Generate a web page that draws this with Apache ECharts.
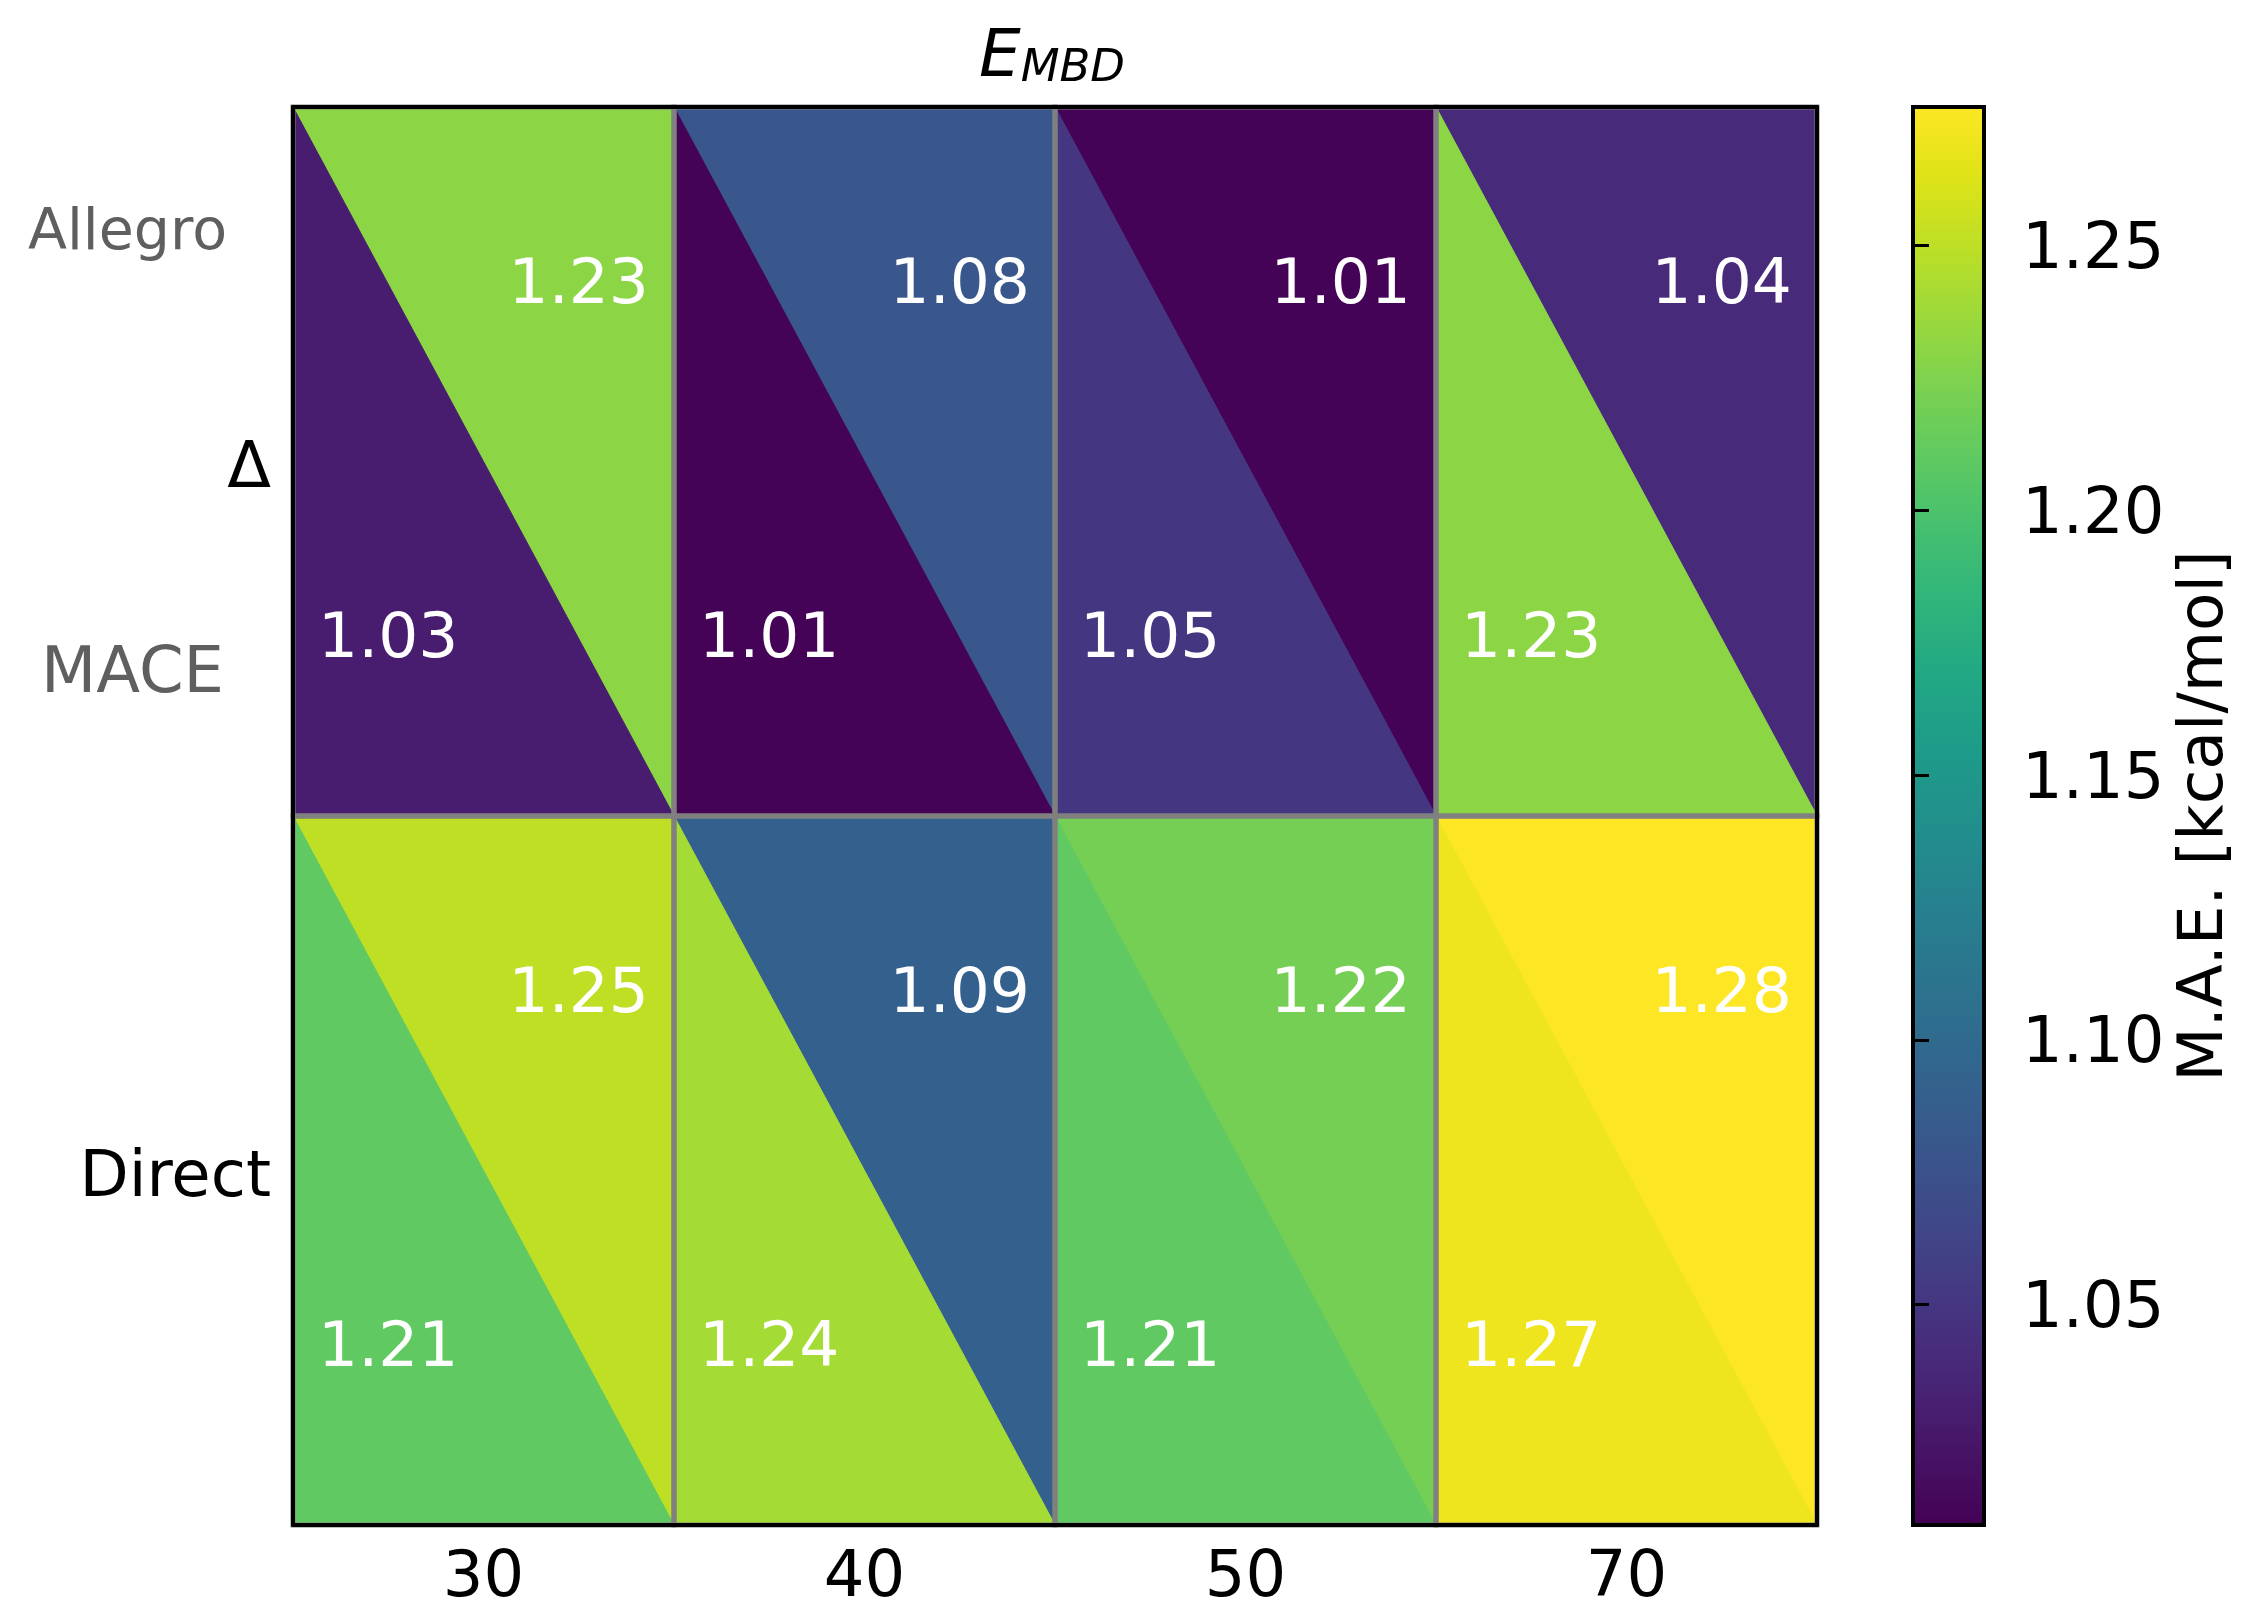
<!DOCTYPE html>
<html>
<head>
<meta charset="utf-8">
<script src="https://cdn.jsdelivr.net/npm/echarts@6/dist/echarts.min.js"></script>
<style>
  html, body { margin: 0; padding: 0; background: #ffffff; }
  #chart { width: 2249px; height: 1599px; }
</style>
</head>
<body>
<div id="chart"></div>
<script>
// MBD cutoff settings (columns) and training approaches (rows, bottom to top)
const cutoffs = ['30', '40', '50', '70'];
const approaches = ['Direct', 'Δ'];

// Mean absolute errors, kcal/mol. Allegro fills the upper-right triangle
// of each cell, MACE the lower-left one.
const allegroDirect = [1.25, 1.09, 1.22, 1.28];
const maceDirect    = [1.21, 1.24, 1.21, 1.27];
const allegroDelta  = [1.23, 1.08, 1.01, 1.04];
const maceDelta     = [1.03, 1.01, 1.05, 1.23];

// Colour scale limits and colourbar ticks
const colorMin = 1.0084;
const colorMax = 1.2761;
const colorbarTicks = [1.05, 1.10, 1.15, 1.20, 1.25];

// viridis, sampled every 5 %
const viridis = [
  '#440154', '#471365', '#482475', '#463480', '#414487', '#3b528b', '#355f8d',
  '#2f6c8e', '#2a788e', '#25848e', '#21918c', '#1e9c89', '#22a884', '#2fb47c',
  '#44bf70', '#5ec962', '#7ad151', '#9bd93c', '#bddf26', '#dfe318', '#fde725'
];

const FONT = 'DejaVu Sans';
const FS = 64;

// [column, row, value, part]  part 0 = upper-right (Allegro), 1 = lower-left (MACE)
const triangles = [];
const byRow = [[allegroDirect, maceDirect], [allegroDelta, maceDelta]];
byRow.forEach((pair, r) => {
  cutoffs.forEach((_, c) => {
    triangles.push([c, r, pair[0][c], 0]);
    triangles.push([c, r, pair[1][c], 1]);
  });
});
const cells = [];
approaches.forEach((_, r) => cutoffs.forEach((_, c) => cells.push([c, r])));

function cellBox(api) {
  const center = api.coord([api.value(0), api.value(1)]);
  const size = api.size([1, 1]);
  return {
    x0: center[0] - size[0] / 2, x1: center[0] + size[0] / 2,
    y0: center[1] - size[1] / 2, y1: center[1] + size[1] / 2,
    w: size[0], h: size[1]
  };
}

function renderTriangle(params, api) {
  const b = cellBox(api);
  const part = api.value(3);
  const fill = api.visual('color');
  const pts = part === 0
    ? [[b.x0, b.y0], [b.x1, b.y0], [b.x1, b.y1]]
    : [[b.x0, b.y0], [b.x0, b.y1], [b.x1, b.y1]];
  const lx = b.x0 + (part === 0 ? 0.75 : 0.25) * b.w;
  const ly = b.y0 + (part === 0 ? 0.25 : 0.75) * b.h + 2;
  return {
    type: 'group',
    children: [
      { type: 'polygon', shape: { points: pts }, style: { fill: fill, stroke: fill, lineWidth: 1 } },
      {
        type: 'text', x: lx, y: ly, z2: 20,
        style: {
          text: api.value(2).toFixed(2), fill: '#ffffff',
          fontFamily: FONT, fontSize: 63, align: 'center', verticalAlign: 'middle'
        }
      }
    ]
  };
}

function renderCellEdge(params, api) {
  const b = cellBox(api);
  return {
    type: 'rect',
    shape: { x: b.x0, y: b.y0, width: b.w, height: b.h },
    style: { fill: null, stroke: '#808080', lineWidth: 5 }
  };
}

function renderColorbar(params, api) {
  const p0 = api.coord([0, api.value(0)]);
  const p1 = api.coord([1, api.value(1)]);
  const stops = viridis.map((c, i) => ({ offset: i / (viridis.length - 1), color: c }));
  return {
    type: 'rect',
    shape: { x: p0[0], y: p1[1], width: p1[0] - p0[0], height: p0[1] - p1[1] },
    style: {
      fill: new echarts.graphic.LinearGradient(0, 1, 0, 0, stops),
      stroke: '#000000', lineWidth: 4
    }
  };
}

const chart = echarts.init(document.getElementById('chart'), null, { renderer: 'canvas' });

const frameLine = { show: true, lineStyle: { color: '#000000', width: 4 } };

chart.setOption({
  backgroundColor: '#ffffff',
  animation: false,
  grid: [
    { left: 293, top: 107, width: 1524, height: 1418, outerBoundsMode: 'none', containLabel: false },
    { left: 1913, top: 107, width: 71, height: 1418, outerBoundsMode: 'none', containLabel: false }
  ],
  xAxis: [
    {
      type: 'category', gridIndex: 0, data: cutoffs, position: 'bottom', z: 10,
      axisLine: frameLine, axisTick: { show: false }, splitLine: { show: false },
      axisLabel: { fontFamily: FONT, fontSize: FS, color: '#000000', margin: 22 }
    },
    {
      type: 'category', gridIndex: 0, data: cutoffs, position: 'top', z: 10,
      axisLine: frameLine, axisTick: { show: false }, axisLabel: { show: false }, splitLine: { show: false }
    },
    { type: 'value', gridIndex: 1, min: 0, max: 1, show: false }
  ],
  yAxis: [
    {
      type: 'category', gridIndex: 0, data: approaches, position: 'left', z: 10,
      axisLine: frameLine, axisTick: { show: false }, splitLine: { show: false },
      axisLabel: {
        margin: 22,
        formatter: v => '{t|' + v + '}',
        rich: { t: { fontFamily: FONT, fontSize: FS, color: '#000000', padding: [18, 0, 0, 0] } }
      }
    },
    {
      type: 'category', gridIndex: 0, data: approaches, position: 'right', z: 10,
      axisLine: frameLine, axisTick: { show: false }, axisLabel: { show: false }, splitLine: { show: false }
    },
    {
      type: 'value', gridIndex: 1, position: 'right', min: colorMin, max: colorMax, z: 10,
      axisLine: { show: false }, splitLine: { show: false },
      axisTick: {
        show: true, length: 16, customValues: colorbarTicks,
        lineStyle: { color: '#000000', width: 3 }
      },
      axisLabel: {
        show: true, customValues: colorbarTicks, margin: 38,
        formatter: v => '{t|' + v.toFixed(2) + '}',
        rich: { t: { fontFamily: FONT, fontSize: FS, color: '#000000', padding: [12, 0, 0, 0] } }
      },
      name: 'M.A.E. [kcal/mol]', nameLocation: 'middle', nameRotate: 90, nameGap: 190,
      nameTextStyle: { fontFamily: FONT, fontSize: 63, color: '#000000' }
    }
  ],
  visualMap: {
    show: false, type: 'continuous', seriesIndex: 0, dimension: 2,
    min: colorMin, max: colorMax, inRange: { color: viridis }
  },
  series: [
    {
      type: 'custom', xAxisIndex: 0, yAxisIndex: 0, z: 2,
      renderItem: renderTriangle, data: triangles,
      encode: { x: 0, y: 1 }
    },
    {
      type: 'custom', xAxisIndex: 0, yAxisIndex: 0, z: 3, silent: true,
      renderItem: renderCellEdge, data: cells,
      encode: { x: 0, y: 1 }
    },
    {
      type: 'custom', xAxisIndex: 2, yAxisIndex: 2, z: 2, silent: true,
      renderItem: renderColorbar, data: [[colorMin, colorMax]],
      encode: { y: [0, 1] }
    }
  ],
  graphic: [
    {
      type: 'text', x: 1052, y: 26, z: 100,
      style: {
        text: '{e|E}{s|MBD}', align: 'center', verticalAlign: 'top',
        rich: {
          e: { fontFamily: FONT, fontStyle: 'italic', fontSize: 66, lineHeight: 66, verticalAlign: 'top', padding: [0, 0, 8, 0], fill: '#000000' },
          s: { fontFamily: FONT, fontStyle: 'italic', fontSize: 45, lineHeight: 45, verticalAlign: 'bottom', fill: '#000000' }
        }
      }
    },
    {
      type: 'text', x: 227, y: 234, z: 100,
      style: { text: 'Allegro', fill: '#5f5f5f', fontFamily: FONT, fontSize: 57, align: 'right', verticalAlign: 'middle' }
    },
    {
      type: 'text', x: 224, y: 675, z: 100,
      style: { text: 'MACE', fill: '#5f5f5f', fontFamily: FONT, fontSize: 64, align: 'right', verticalAlign: 'middle' }
    }
  ]
});
</script>
</body>
</html>
